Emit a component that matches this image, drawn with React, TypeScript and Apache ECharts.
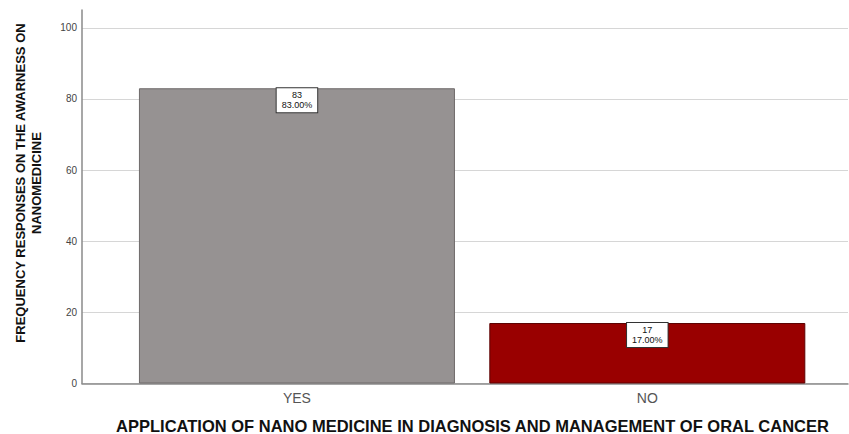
import React, { useEffect, useRef } from "react";
import * as echarts from "echarts";

const categories = ["YES", "NO"];
const counts = [83, 17];
const barColors = ["#969292", "#990000"];
const barBorders = ["#6e6a6a", "#5c0000"];
const yTicks = [0, 20, 40, 60, 80, 100];
const yTitle = "FREQUENCY RESPONSES ON THE AWARNESS ON\nNANOMEDICINE";
const xTitle = "APPLICATION OF NANO MEDICINE IN DIAGNOSIS AND MANAGEMENT OF ORAL CANCER";

export default function App() {
  const ref = useRef<HTMLDivElement>(null);
  useEffect(() => {
    if (!ref.current) return;
    const chart = echarts.init(ref.current, null, { renderer: "svg" });
    const total = counts.reduce((a, b) => a + b, 0);
    const font = "Arial, 'Liberation Sans', sans-serif";
    chart.setOption({
      animation: false,
      backgroundColor: "#ffffff",
      textStyle: { fontFamily: font },
      grid: [
        { left: 82, right: 1, top: 10, bottom: 50.5 },
        { left: 121.75, right: 26.5, top: 10, bottom: 50.5 },
      ],
      xAxis: [
        {
          gridIndex: 0,
          type: "category",
          data: ["", ""],
          axisLine: { show: true, lineStyle: { color: "#8a8a8a", width: 1.5 } },
          axisTick: { show: false },
          axisLabel: { show: false },
          splitLine: { show: false },
        },
        {
          gridIndex: 1,
          type: "category",
          data: categories,
          axisLine: { show: false },
          axisTick: { show: false },
          axisLabel: { fontSize: 14, color: "#555", margin: 7, fontFamily: font },
        },
      ],
      yAxis: [
        {
          gridIndex: 0,
          type: "value",
          min: yTicks[0],
          max: 105,
          interval: yTicks[1] - yTicks[0],
          axisLine: { show: true, lineStyle: { color: "#8a8a8a", width: 1.5 } },
          axisTick: { show: false },
          axisLabel: {
            fontSize: 10,
            color: "#444",
            margin: 5,
            fontFamily: font,
            formatter: (v: number) => (yTicks.includes(v) ? String(v) : ""),
          },
          splitLine: { show: true, showMaxLine: false, lineStyle: { color: "#d6d6d6", width: 1 } },
        },
        {
          gridIndex: 1,
          type: "value",
          min: yTicks[0],
          max: 105,
          show: false,
          splitLine: { show: false },
        },
      ],
      series: [
        {
          type: "bar",
          xAxisIndex: 1,
          yAxisIndex: 1,
          barWidth: 316,
          data: counts.map((v, i) => ({
            value: v,
            itemStyle: { color: barColors[i], borderColor: barBorders[i], borderWidth: 1 },
          })),
          label: {
            show: true,
            position: "insideTop",
            distance: 0,
            formatter: (p: any) => `${p.value}\n${((p.value / total) * 100).toFixed(2)}%`,
            backgroundColor: "#ffffff",
            borderColor: "#333",
            borderWidth: 1,
            padding: [2, 5, 2, 5],
            fontSize: 9,
            lineHeight: 10,
            color: "#111",
            fontFamily: font,
          },
        },
      ],
      graphic: [
        {
          type: "text",
          x: 28.5,
          y: 183,
          rotation: Math.PI / 2,
          style: {
            text: yTitle,
            fontSize: 13,
            fontWeight: "bold",
            lineHeight: 16,
            fill: "#111",
            align: "center",
            verticalAlign: "middle",
            fontFamily: font,
          },
        },
        {
          type: "text",
          x: 472.5,
          y: 426,
          style: {
            text: xTitle,
            fontSize: 16.5,
            fontWeight: "bold",
            fill: "#111",
            align: "center",
            verticalAlign: "middle",
            fontFamily: font,
          },
        },
      ],
    });
    return () => chart.dispose();
  }, []);
  return <div ref={ref} style={{ width: 849, height: 434, position: "fixed", left: 0, top: 0 }} />;
}
